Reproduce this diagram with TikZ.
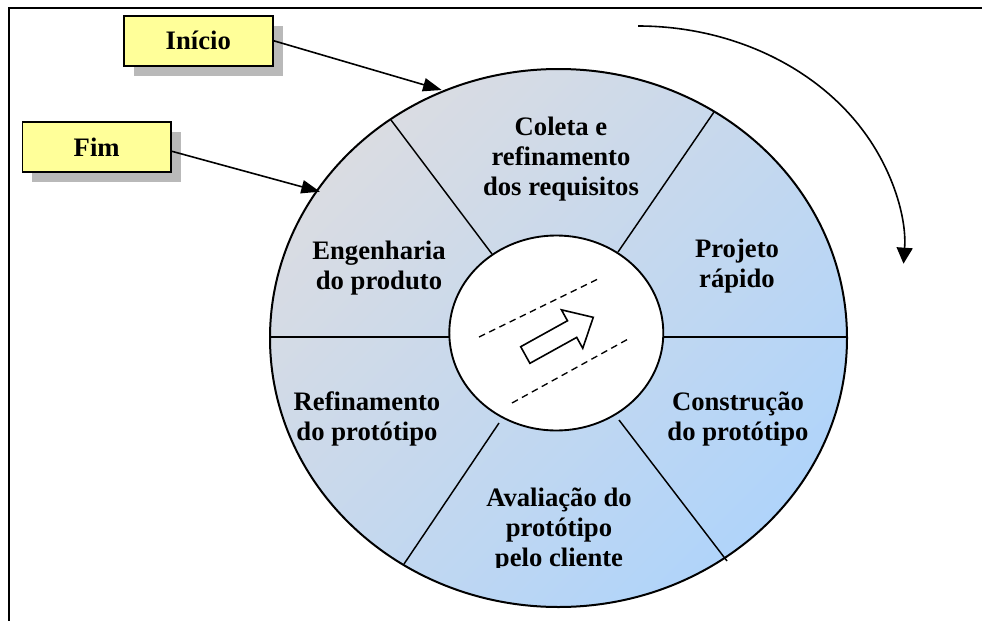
\documentclass[tikz,border=0pt]{standalone}
\usepackage{fontspec}
\setmainfont{Liberation Serif}
\usetikzlibrary{arrows.meta,shadows}
\definecolor{boxyellow}{RGB}{255,255,153}
\definecolor{wheelgray}{RGB}{218,220,226}
\definecolor{wheelblue}{RGB}{176,212,250}
\begin{document}
\begin{tikzpicture}[x=0.75pt,y=-0.75pt,
  phase/.style={font=\bfseries\fontsize{20}{22.5}\selectfont,align=center},
  startbox/.style={draw,line width=1.4pt,fill=boxyellow,minimum width=111.4pt,minimum height=37.5pt,
    drop shadow={shadow xshift=7.5pt,shadow yshift=-7.5pt,fill=gray!55,opacity=1}},
  pointer/.style={line width=1.2pt,-{Triangle[length=14pt,width=10pt]}}]
\useasboundingbox (0,0) rectangle (982,621);
\draw[line width=1.6pt] (9,621) -- (9,8) -- (982,8);

\shade[top color=wheelgray,bottom color=wheelblue,shading angle=45] (558.5,338) ellipse [x radius=288.5,y radius=269];
\draw[line width=1.5pt] (558.5,338) ellipse [x radius=288.5,y radius=269];
\foreach \xa/\ya/\xb/\yb in {391/120/492/254,714/112/618/252,270/337/449/337,
  663/337/847/337,499/423/404/564,619/420/727/561}{
\draw[line width=1.1pt] (\xa,\ya) -- (\xb,\yb);
}
\draw[line width=1.4pt,fill=white] (556.3,333) ellipse [x radius=107,y radius=97.5];
\draw[line width=1pt,dash pattern=on 5pt off 3.5pt] (479,337) -- (600,278);
\draw[line width=1pt,dash pattern=on 5pt off 3.5pt] (512,403) -- (630,338);
\draw[line width=1.2pt,fill=white,shift={(525.3,355)},rotate=29]
  (0,-9.5) -- (53.5,-9.5) -- (53.5,-22) -- (77.7,0) -- (53.5,22) -- (53.5,9.5) -- (0,9.5) -- cycle;

\node[phase] (coleta) at (561,159) {Coleta e\\refinamento\\dos requisitos};
\node[phase] (projeto) at (737,266) {Projeto\\rápido};
\node[phase] (construcao) at (738,419) {Construção\\do protótipo};
\node[phase] (refino) at (367,419) {Refinamento\\do protótipo};
\node[phase] (engenharia) at (379,268) {Engenharia\\do produto};
\begin{scope}
\clip (0,0) rectangle (982,567);
\node[phase] (avaliacao) at (559,530) {Avaliação do\\protótipo\\pelo cliente};
\end{scope}

\node[startbox,phase] (inicio) at (198.3,40.7) {Início};
\node[startbox,phase] (fim) at (96.7,147.3) {Fim};
\coordinate (inicioend) at (441.7,90);
\coordinate (fimend) at (320,191.7);
\draw[pointer] (inicio.east) -- (inicioend);
\draw[pointer] ([yshift=-3pt]fim.east) -- (fimend);

\coordinate (turnstart) at (638,26);
\draw[line width=1.2pt,-{Triangle[length=12pt,width=12pt]}] (turnstart)
  arc[start angle=-90,end angle=3.5,x radius=266,y radius=224];
\end{tikzpicture}
\end{document}
